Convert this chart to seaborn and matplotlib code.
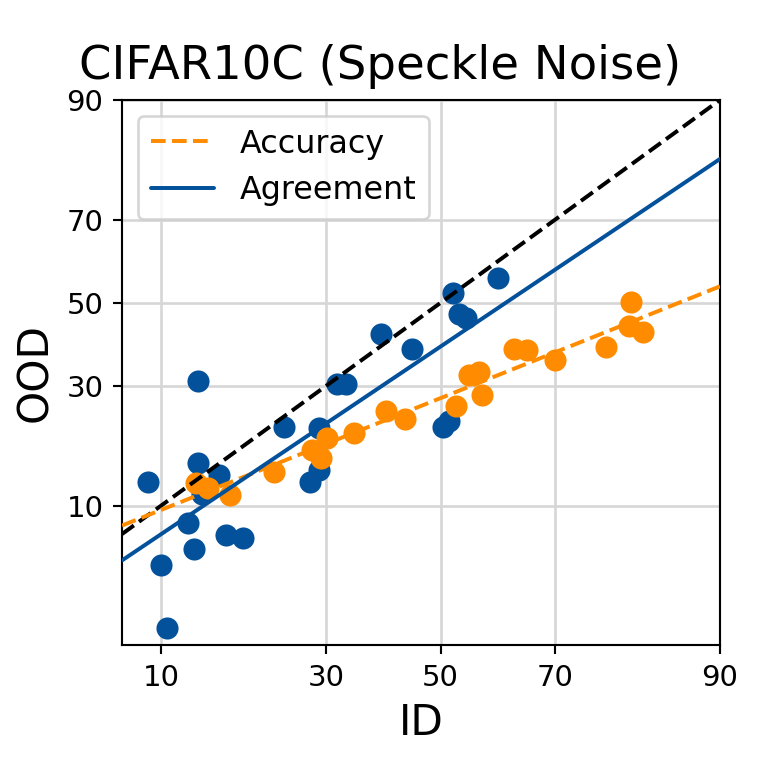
from statistics import NormalDist

import numpy as np
import pandas as pd
import matplotlib
matplotlib.use("Agg")
import matplotlib.pyplot as plt
import seaborn as sns

# values (percent)
agree_id = [9.0, 13.3, 13.3, 15.5, 13.7, 12.3, 12.9, 16.3, 18.2, 10.0, 10.5,
            23.7, 28.8, 28.8, 27.4, 31.8, 33.3, 39.3, 44.8, 50.5, 51.6,
            52.3, 53.4, 54.6, 60.4]
agree_ood = [12.9, 31.0, 15.5, 13.9, 11.3, 8.2, 6.0, 7.1, 6.9, 4.9, 2.0,
             21.6, 21.4, 14.5, 12.9, 30.3, 30.3, 42.3, 38.6, 21.7, 22.7,
             52.5, 47.3, 46.3, 56.3]

acc_id = [13.1, 14.3, 16.7, 22.2, 27.7, 29.2, 30.2, 34.6, 40.1, 43.5, 52.8,
          55.2, 57.0, 57.5, 63.2, 65.4, 70.0, 77.6, 80.6, 80.9, 82.4]
acc_ood = [12.7, 12.1, 11.2, 14.3, 17.6, 16.3, 19.7, 20.6, 24.8, 23.2, 25.8,
           32.5, 33.0, 28.1, 38.6, 38.2, 35.8, 38.9, 44.3, 50.1, 42.8]

ticks = [10, 30, 50, 70, 90]
x_lim = (7.2, 90)
y_lim = (1.53, 90)

BLUE = "#03519b"
ORANGE = "#ff8c00"

_nd = NormalDist()


def probit(p):
    p = np.asarray(p, dtype=float) / 100.0
    p = np.clip(np.nan_to_num(p, nan=0.5), 1e-9, 1 - 1e-9)
    return np.vectorize(_nd.inv_cdf, otypes=[float])(p)


def inv_probit(z):
    z = np.nan_to_num(np.asarray(z, dtype=float), nan=0.0, posinf=40, neginf=-40)
    return np.vectorize(_nd.cdf, otypes=[float])(z) * 100.0


def fit_line(xs, ys):
    # straight line in probit space, returned as two end points in percent
    k, b = np.polyfit(probit(xs), probit(ys), 1)
    zx = probit(list(x_lim))
    return pd.DataFrame({"x": inv_probit(zx), "y": inv_probit(k * zx + b)})


agree_df = pd.DataFrame({"ID": agree_id, "OOD": agree_ood})
acc_df = pd.DataFrame({"ID": acc_id, "OOD": acc_ood})

sns.set_style("ticks")
plt.rcParams.update({"text.color": "black", "axes.labelcolor": "black",
                     "xtick.color": "black", "ytick.color": "black"})
fig = plt.figure(figsize=(4, 4), dpi=190.25)
ax = fig.add_axes([0.1603, 0.1524, 0.7858, 0.7162])
ax.set_xscale("function", functions=(probit, inv_probit))
ax.set_yscale("function", functions=(probit, inv_probit))

ax.grid(True, color="#d6d6d6", linewidth=1.0, zorder=0)
ax.set_axisbelow(True)

sns.scatterplot(data=agree_df, x="ID", y="OOD", color=BLUE, s=70,
                linewidth=0, ax=ax, zorder=3)
sns.scatterplot(data=acc_df, x="ID", y="OOD", color=ORANGE, s=70,
                linewidth=0, ax=ax, zorder=3)

diag = pd.DataFrame({"x": list(x_lim), "y": list(x_lim)})
ax.plot(diag["x"], diag["y"], color="black", linestyle="--", linewidth=1.5, zorder=4)

acc_fit = fit_line(acc_id, acc_ood)
agree_fit = fit_line(agree_id, agree_ood)
ax.plot(acc_fit["x"], acc_fit["y"], color=ORANGE, linestyle="--", linewidth=1.5,
        label="Accuracy", zorder=4)
ax.plot(agree_fit["x"], agree_fit["y"], color=BLUE, linewidth=1.5,
        label="Agreement", zorder=4)

ax.set_xlim(*x_lim)
ax.set_ylim(*y_lim)
ax.set_xticks(ticks)
ax.set_yticks(ticks)
ax.set_xticklabels([str(t) for t in ticks])
ax.set_yticklabels([str(t) for t in ticks])
ax.minorticks_off()
ax.tick_params(labelsize=11, length=3.5, width=0.8, colors="black")
for sp in ax.spines.values():
    sp.set_color("black")
    sp.set_linewidth(0.8)

ax.set_xlabel("ID", fontsize=16, color="black")
ax.set_ylabel("OOD", fontsize=16, color="black")
ax.set_title("CIFAR10C (Speckle Noise)", fontsize=17.6, color="black",
             x=0.431, pad=8)
leg = ax.legend(loc="upper left", fontsize=12, frameon=True)
for t in leg.get_texts():
    t.set_color("black")

fig.savefig("out.png", dpi=190.25)
